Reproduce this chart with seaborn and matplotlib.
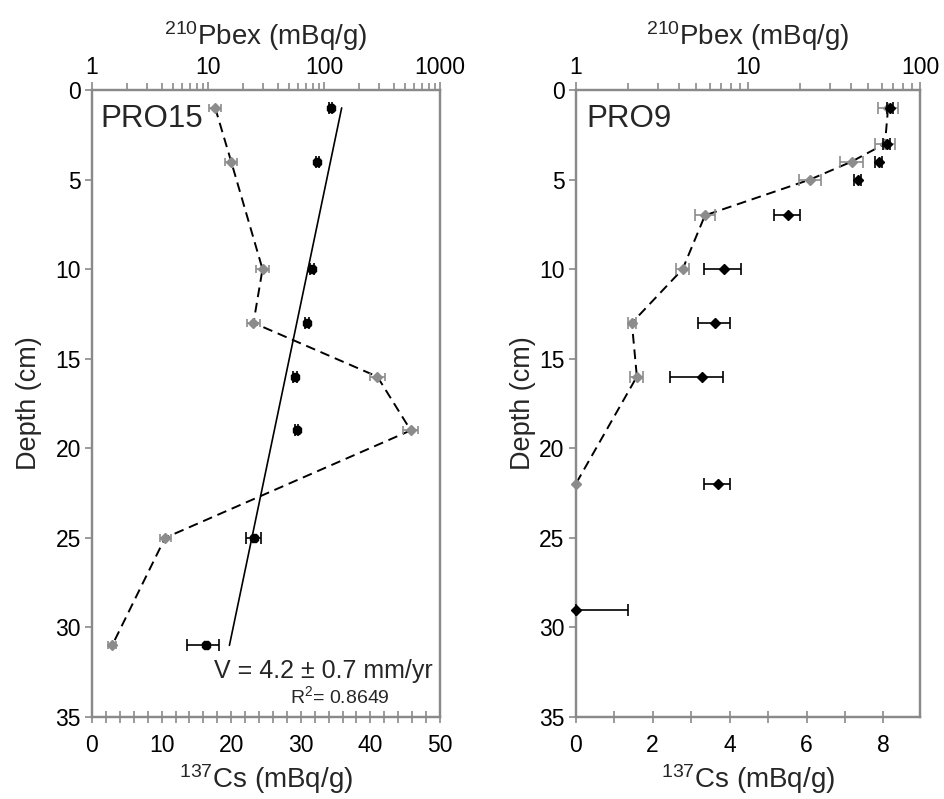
import matplotlib
matplotlib.use("Agg")
import matplotlib.pyplot as plt
import matplotlib.ticker as mticker
import seaborn as sns
import numpy as np
import pandas as pd

# ---------------- data ----------------
# PRO15
pro15_cs_depth = [1, 4, 10, 13, 16, 19, 25, 31]
pro15_cs = [17.7, 20.0, 24.5, 23.2, 41.0, 45.8, 10.5, 2.9]
pro15_cs_err = [0.9, 0.9, 1.0, 1.0, 1.1, 1.1, 0.8, 0.6]

pro15_pb_depth = [1, 4, 10, 13, 16, 19, 25, 31]
pro15_pb = [114, 87.5, 79, 71.8, 56.2, 58.2, 24.9, 9.55]
pro15_pb_err = [3, 3, 3, 3, 2, 2, 3.7, 3.0]

pro15_fit_depth = [1, 31]
pro15_fit_pb = [142, 15.3]

# PRO9
pro9_cs_depth = [1, 3, 4, 5, 7, 10, 13, 16, 22]
pro9_cs = [8.12, 8.04, 7.17, 6.09, 3.36, 2.78, 1.46, 1.59, 0.0]
pro9_cs_err = [0.26, 0.25, 0.3, 0.28, 0.26, 0.17, 0.1, 0.17, 0.0]

pro9_pb_depth = [1, 3, 4, 5, 7, 10, 13, 16, 22, 29]
pro9_pb = [67, 64, 57.5, 43.6, 17.0, 7.28, 6.45, 5.4, 6.75, 1.0]
pro9_pb_err_lo = [3, 3, 2.5, 2.0, 2.9, 1.71, 1.33, 1.87, 1.18, 0.0]
pro9_pb_err_hi = [3, 3, 2.5, 2.0, 3.1, 1.82, 1.45, 1.80, 1.15, 1.02]

depth_ticks = [0, 5, 10, 15, 20, 25, 30, 35]

# ---------------- style ----------------
sns.set_theme(style="ticks")
plt.rcParams['font.family'] = ['Liberation Sans', 'DejaVu Sans']
plt.rcParams['mathtext.fontset'] = 'custom'
plt.rcParams['mathtext.rm'] = 'Liberation Sans'
plt.rcParams['mathtext.it'] = 'Liberation Sans:italic'

SPINE = '#8a8a8a'
GRAY = '#8c8c8c'
TICK_FS = 16.5
LAB_FS = 20
DEPTH_FS = 19.5

fig = plt.figure(figsize=(9.44, 7.99), dpi=100)
H = 799.0
W = 944.0
ax1 = fig.add_axes([92 / W, 1 - 717 / H, (440 - 92) / W, (717 - 90) / H])
ax2 = fig.add_axes([575.7 / W, 1 - 717 / H, (920 - 575.7) / W, (717 - 90) / H])


def style_axes(ax, top):
    for a in (ax, top):
        for s in a.spines.values():
            s.set_color(SPINE)
            s.set_linewidth(1.6)
    ax.tick_params(axis='y', direction='out', length=5, width=1.2, color=SPINE,
                   labelsize=TICK_FS, labelcolor='black', pad=3)
    ax.tick_params(axis='x', which='both', direction='inout', length=8, width=1.2,
                   color=SPINE, labelsize=TICK_FS, labelcolor='black', pad=8)
    top.tick_params(axis='x', which='both', direction='out', length=5, width=1.2,
                    color=SPINE, labelsize=TICK_FS, labelcolor='black', pad=2)
    top.tick_params(axis='x', which='major', length=6)


# ---------------- PRO15 ----------------
top1 = ax1.twiny()
ax1.set_ylim(35, 0)
ax1.set_xlim(0, 50)
top1.set_xscale('log')
top1.set_xlim(1, 1000)

sns.lineplot(x=pro15_cs, y=pro15_cs_depth, sort=False, estimator=None, ax=ax1,
             color='black', linewidth=1.4, linestyle=(0, (5, 3)))
ax1.errorbar(pro15_cs, pro15_cs_depth, xerr=pro15_cs_err, fmt='D', color=GRAY,
             ecolor=GRAY, markersize=5, capsize=3, elinewidth=1.2, capthick=1.2, zorder=5)

sns.lineplot(x=pro15_fit_pb, y=pro15_fit_depth, sort=False, estimator=None, ax=top1,
             color='black', linewidth=1.2)
top1.errorbar(pro15_pb, pro15_pb_depth, xerr=pro15_pb_err, fmt='8', color='black',
              ecolor='black', markersize=7, capsize=4, elinewidth=1.2, capthick=1.2, zorder=5)

ax1.set_xticks([0, 10, 20, 30, 40, 50])
ax1.xaxis.set_minor_locator(mticker.MultipleLocator(2))
ax1.set_yticks(depth_ticks)
top1.set_xticks([1, 10, 100, 1000])
top1.xaxis.set_major_formatter(mticker.FixedFormatter(['1', '10', '100', '1000']))
top1.xaxis.set_minor_locator(mticker.LogLocator(base=10, subs=np.arange(2, 10)))
top1.xaxis.set_minor_formatter(mticker.NullFormatter())
style_axes(ax1, top1)

ax1.set_ylabel('Depth (cm)', fontsize=DEPTH_FS, labelpad=10)
ax1.set_xlabel(r'$\mathregular{^{137}}$Cs (mBq/g)', fontsize=LAB_FS, labelpad=4)
top1.set_xlabel(r'$\mathregular{^{210}}$Pbex (mBq/g)', fontsize=LAB_FS, labelpad=8)

ax1.text(0.025, 0.978, 'PRO15', transform=ax1.transAxes, fontsize=22.5,
         ha='left', va='top')
ax1.text(0.98, 0.073, 'V = 4.2 ± 0.7 mm/yr', transform=ax1.transAxes, fontsize=18,
         ha='right', va='center')
ax1.text(0.856, 0.033, r'R$\mathregular{^2}$= 0.8649', transform=ax1.transAxes, fontsize=14,
         ha='right', va='center')

# ---------------- PRO9 ----------------
top2 = ax2.twiny()
ax2.set_ylim(35, 0)
ax2.set_xlim(0, 8.95)
top2.set_xscale('log')
top2.set_xlim(1, 100)

sns.lineplot(x=pro9_cs, y=pro9_cs_depth, sort=False, estimator=None, ax=ax2,
             color='black', linewidth=1.4, linestyle=(0, (5, 3)))
ax2.errorbar(pro9_cs, pro9_cs_depth, xerr=pro9_cs_err, fmt='D', color=GRAY,
             ecolor=GRAY, markersize=5, capsize=4, elinewidth=1.2, capthick=1.2,
             zorder=5, clip_on=False)

top2.errorbar(pro9_pb, pro9_pb_depth, xerr=[pro9_pb_err_lo, pro9_pb_err_hi], fmt='D',
              color='black', ecolor='black', markersize=5.5, capsize=4, elinewidth=1.2,
              capthick=1.2, zorder=6, clip_on=False)

ax2.set_xticks([0, 2, 4, 6, 8])
ax2.xaxis.set_minor_locator(mticker.MultipleLocator(1))
ax2.set_yticks(depth_ticks)
top2.set_xticks([1, 10, 100])
top2.xaxis.set_major_formatter(mticker.FixedFormatter(['1', '10', '100']))
top2.xaxis.set_minor_locator(mticker.LogLocator(base=10, subs=np.arange(2, 10)))
top2.xaxis.set_minor_formatter(mticker.NullFormatter())
style_axes(ax2, top2)

ax2.set_ylabel('Depth (cm)', fontsize=DEPTH_FS, labelpad=2)
ax2.set_xlabel(r'$\mathregular{^{137}}$Cs (mBq/g)', fontsize=LAB_FS, labelpad=4)
top2.set_xlabel(r'$\mathregular{^{210}}$Pbex (mBq/g)', fontsize=LAB_FS, labelpad=8)

ax2.text(0.03, 0.978, 'PRO9', transform=ax2.transAxes, fontsize=22.5,
         ha='left', va='top')

for a in (ax1, ax2):
    a.set_zorder(1)
for a in (top1, top2):
    a.set_zorder(2)
    a.patch.set_visible(False)

fig.savefig('out.png', dpi=100)
